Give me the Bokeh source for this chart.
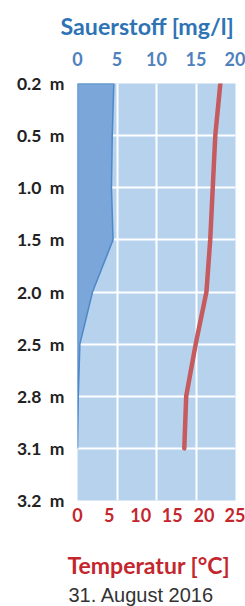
from bokeh.plotting import figure
from bokeh.models import Range1d, LinearAxis, FixedTicker, Grid, Title
from bokeh.embed import file_html
from bokeh.resources import INLINE

NB = "\u00a0\u00a0"
depth_labels = ["0.2", "0.5", "1.0", "1.5", "2.0", "2.5", "2.8", "3.1", "3.2"]
measured_depths = ["0.2", "0.5", "1.0", "1.5", "2.0", "2.5", "2.8", "3.1"]
oxygen = [4.6, 4.4, 4.3, 4.5, 1.9, 0.3, 0.1, 0.0]
temperature = [22.6, 21.8, 21.4, 21.0, 20.4, 18.7, 17.2, 16.9]
oxy_ticks = [0, 5, 10, 15, 20]
temp_ticks = [0, 5, 10, 15, 20, 25]

idx = [depth_labels.index(d) for d in measured_depths]

p = figure(width=245, height=606, output_backend="svg", toolbar_location=None,
           x_range=Range1d(0, 25), y_range=Range1d(len(depth_labels) - 1, 0),
           x_axis_location=None, y_axis_location="left",
           min_border_left=77, min_border_right=10, min_border_top=83, min_border_bottom=104)
p.extra_x_ranges = {"oxy": Range1d(0, 20)}
p.background_fill_color = "#b7d2ec"
p.border_fill_color = "white"
p.outline_line_color = None

p.xgrid.visible = False
p.ygrid.grid_line_color = "white"
p.ygrid.grid_line_width = 2
p.ygrid.ticker = FixedTicker(ticks=list(range(len(depth_labels))))
p.add_layout(Grid(dimension=0, ticker=FixedTicker(ticks=oxy_ticks[1:-1]), x_range_name="oxy",
                  grid_line_color="white", grid_line_width=2))

# left axis
ya = p.yaxis[0]
ya.ticker = FixedTicker(ticks=list(range(len(depth_labels))))
ya.major_label_overrides = {i: lab + NB + "m" for i, lab in enumerate(depth_labels)}
ya.axis_line_color = None
ya.major_tick_line_color = None
ya.minor_tick_line_color = None
ya.major_label_standoff = 7
ya.major_label_text_font = "Lato"
ya.major_label_text_font_style = "bold"
ya.major_label_text_font_size = "17.5px"
ya.major_label_text_color = "#222222"

# oxygen area
px = [0] + oxygen + [0]
py = [idx[0]] + idx + [idx[-1]]
p.patch(px, py, x_range_name="oxy", fill_color="#7aa6d9", line_color="#4f88c8", line_width=1.5)

# temperature line
p.line(temperature, idx, line_color="#c55a5f", line_width=4.5, line_cap="round", line_join="round")

# top axis (oxygen)
top = LinearAxis(x_range_name="oxy", ticker=FixedTicker(ticks=oxy_ticks))
top.axis_line_color = None
top.major_tick_line_color = None
top.minor_tick_line_color = None
top.major_label_standoff = 12
top.major_label_text_font = "Lato"
top.major_label_text_font_style = "bold"
top.major_label_text_font_size = "18px"
top.major_label_text_color = "#4f81bd"
p.add_layout(top, "above")
p.add_layout(Title(text="Sauerstoff [mg/l]", align="left", offset=-17, standoff=18,
                   text_font="Lato", text_font_style="bold", text_font_size="23.2px",
                   text_color="#2e74b5"), "above")

# bottom axis (temperature)
bot = LinearAxis(ticker=FixedTicker(ticks=temp_ticks))
bot.axis_line_color = None
bot.major_tick_line_color = None
bot.minor_tick_line_color = None
bot.major_label_standoff = 1
bot.major_label_text_font = "Lato"
bot.major_label_text_font_style = "bold"
bot.major_label_text_font_size = "18px"
bot.major_label_text_color = "#c4262e"
p.add_layout(bot, "below")
# spacer between the tick labels and the axis title
p.add_layout(Title(text="\u00a0", text_font_size="16px", standoff=3), "below")
p.add_layout(Title(text="Temperatur [°C]", align="left", offset=-10, standoff=4,
                   text_font="Lato", text_font_style="bold", text_font_size="23px",
                   text_color="#c4262e"), "below")
p.add_layout(Title(text="31. August 2016", align="left", offset=-9, standoff=2,
                   text_font="Liberation Sans", text_font_style="normal",
                   text_font_size="20px", text_color="#333333"), "below")

open("out.html", "w").write(file_html(p, INLINE))
